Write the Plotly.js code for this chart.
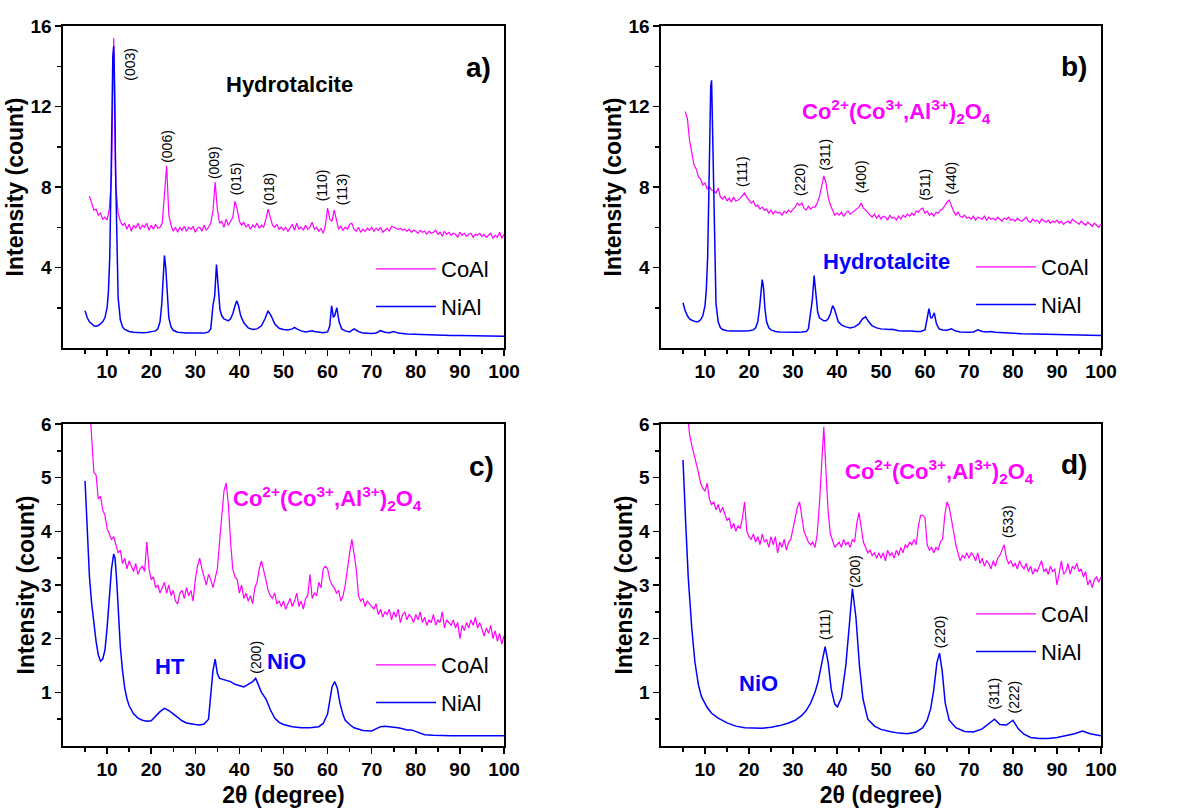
<!DOCTYPE html>
<html>
<head>
<meta charset="utf-8">
<script src="https://cdn.plot.ly/plotly-3.0.1.min.js"></script>
<style>html,body{margin:0;padding:0;background:#fff;}#chart{width:1188px;height:810px;}</style>
</head>
<body>
<div id="chart"></div>
<script>
// ---------------- DATA ----------------
// x-axis tick labels
const xTickVals = [10, 20, 30, 40, 50, 60, 70, 80, 90, 100];
const xMinorVals = [5, 15, 25, 35, 45, 55, 65, 75, 85, 95];
const yTickValsTop = [4, 8, 12, 16];
const yMinorValsTop = [2, 6, 10, 14];
const yTickValsBot = [1, 2, 3, 4, 5, 6];
const yMinorValsBot = [0.5, 1.5, 2.5, 3.5, 4.5, 5.5];
const seriesNames = ['CoAl', 'NiAl'];

// 2θ grid of the NiAl hydrotalcite scans (panels a, b)
const thetaHT = [
  5, 5.5, 6, 6.5, 7, 7.5, 8, 8.5, 9, 9.5,
  10, 10.3, 10.6, 10.9, 11.1, 11.3, 11.5, 11.7, 11.9, 12.2,
  12.5, 13, 13.5, 14, 15, 16, 17, 18, 19, 20,
  21, 21.5, 22, 22.4, 22.7, 23.0, 23.3, 23.6, 24, 24.5,
  25, 26, 27, 28, 29, 30, 31, 32, 33, 33.5,
  34, 34.4, 34.8, 35.2, 35.6, 36, 36.5, 37, 37.5, 38,
  38.5, 39, 39.4, 39.8, 40.3, 41, 42, 43, 44, 45,
  45.8, 46.5, 47.2, 48, 49, 50, 51, 52, 52.5, 53,
  54, 55, 56, 56.5, 57, 58, 59, 60, 60.5, 60.9,
  61.3, 61.6, 62.1, 62.6, 63.2, 64, 65, 66, 67, 68,
  70, 71, 72, 73, 74, 75, 76, 78, 80, 82,
  85, 88, 90, 92, 95, 98, 100
];
// Panel a) NiAl
const niAlA = [
  1.85, 1.5, 1.3, 1.18, 1.1, 1.08, 1.12, 1.2, 1.3, 1.5,
  2.0, 2.8, 4.5, 8.5, 12.0, 14.5, 15.0, 13.0, 9.0, 4.5,
  2.5, 1.4, 1.05, 0.92, 0.82, 0.78, 0.76, 0.76, 0.77, 0.8,
  0.85, 0.95, 1.3, 2.2, 3.5, 4.6, 4.0, 2.6, 1.5, 1.05,
  0.88, 0.78, 0.75, 0.74, 0.74, 0.73, 0.73, 0.74, 0.8, 0.95,
  2.1, 2.6, 4.15, 2.9, 1.9, 1.6, 1.45, 1.4, 1.35, 1.45,
  1.7, 2.1, 2.35, 2.1, 1.6, 1.25, 1.0, 0.92, 0.95, 1.1,
  1.45, 1.85, 1.6, 1.2, 0.98, 0.92, 0.9, 0.95, 1.02, 0.95,
  0.85, 0.8, 0.82, 0.86, 0.82, 0.78, 0.76, 0.8, 1.1, 2.1,
  1.55, 1.6, 2.0, 1.3, 0.95, 0.85, 0.8, 0.95, 0.82, 0.74,
  0.72, 0.75, 0.86, 0.78, 0.76, 0.82, 0.74, 0.7, 0.68, 0.66,
  0.64, 0.62, 0.62, 0.61, 0.6, 0.59, 0.58
];
// Panel a) CoAl, 2θ from 6 to 100 in 0.5 steps
const coAlA = [
  7.55, 7.2, 6.85, 6.9, 6.6, 6.7, 6.4, 6.5,
  6.35, 6.9, 8.5, 15.4, 8.0, 6.7, 6.3, 6.1, 6.2, 5.9, 6.15, 5.8, 6.1, 5.95, 6.2, 5.9, 6.1, 6.0, 6.2, 5.85,
  6.1, 5.9, 6.15, 5.95, 6.0, 6.2, 7.5, 9.05, 6.6, 6.1, 5.8, 6.0, 5.75, 6.0, 5.85, 6.05, 5.8, 6.0, 5.9, 6.05,
  5.75, 5.95, 6.0, 5.8, 6.1, 5.85, 6.0, 6.2, 6.8, 8.25, 6.9, 6.2, 6.3, 6.0, 6.4, 6.1, 6.3, 6.5, 7.3, 6.9,
  6.3, 6.1, 6.25, 6.0, 6.15, 5.9, 6.1, 6.0, 6.2, 5.95, 6.1, 6.0, 6.4, 6.9, 6.5, 6.1, 6.0, 6.15, 5.9, 6.0,
  5.85, 6.0, 5.8, 5.95, 6.15, 5.85, 6.2, 5.9, 6.0, 5.85, 6.1, 5.9, 6.0, 6.25, 5.9, 6.0, 5.8, 5.95, 5.7, 6.1,
  6.95, 6.4, 6.3, 6.85, 6.3, 5.9, 6.05, 5.85, 6.0, 5.9, 6.15, 6.2, 5.9, 5.8, 6.0, 5.75, 5.9, 5.8, 5.95, 5.85,
  6.0, 5.8, 5.95, 5.85, 6.0, 5.75, 5.85, 5.95, 5.8, 6.05, 6.0, 5.95, 5.9, 5.95, 5.85, 5.9, 5.8, 5.9, 5.75, 5.85,
  5.8, 5.7, 5.85, 5.75, 5.8, 5.65, 5.8, 5.7, 5.75, 5.85, 5.65, 5.75, 5.55, 5.8, 5.65, 5.75, 5.6, 5.7, 5.65, 5.5,
  5.75, 5.6, 5.7, 5.55, 5.65, 5.7, 5.5, 5.65, 5.6, 5.7, 5.55, 5.65, 5.5, 5.6, 5.7, 5.45, 5.6, 5.5, 5.75, 5.45,
  5.65
];
// Panel b) NiAl
const niAlB = [
  2.25, 1.85, 1.6, 1.45, 1.38, 1.32, 1.3, 1.32, 1.4, 1.6,
  2.1, 2.9, 4.5, 8.0, 11.0, 13.0, 13.3, 11.0, 7.5, 3.8,
  2.2, 1.3, 1.0, 0.92, 0.86, 0.84, 0.83, 0.83, 0.84, 0.86,
  0.9, 1.0, 1.3, 2.0, 2.9, 3.4, 3.0, 2.0, 1.3, 1.0,
  0.9, 0.82, 0.8, 0.79, 0.79, 0.78, 0.78, 0.79, 0.82, 0.95,
  1.9, 2.4, 3.6, 2.6, 1.8, 1.5, 1.4, 1.35, 1.35, 1.45,
  1.7, 2.1, 1.95, 1.6, 1.3, 1.15, 1.05, 1.0, 1.05, 1.2,
  1.45, 1.55, 1.3, 1.1, 1.0, 0.95, 0.92, 0.92, 0.93, 0.9,
  0.86, 0.85, 0.86, 0.87, 0.84, 0.82, 0.82, 0.9, 1.6, 1.95,
  1.5, 1.5, 1.75, 1.2, 0.95, 0.9, 0.88, 0.95, 0.84, 0.8,
  0.78, 0.8, 0.9, 0.82, 0.8, 0.82, 0.78, 0.75, 0.73, 0.71,
  0.7, 0.68, 0.67, 0.66, 0.64, 0.63, 0.62
];
// Panel b) CoAl, 2θ from 5.5 to 100 in 0.5 steps
const coAlB = [
  11.75, 11.4, 10.3, 9.7, 9.1, 8.9, 8.5, 8.4, 8.1,
  8.2, 7.9, 8.0, 7.85, 7.8, 7.7, 7.95, 7.5, 7.4, 7.55, 7.3, 7.45, 7.25, 7.5, 7.3, 7.35, 7.45, 7.55, 7.7, 7.5,
  7.35, 7.2, 7.3, 7.05, 7.1, 6.9, 7.0, 6.85, 6.9, 6.7, 6.85, 6.65, 6.8, 6.7, 6.75, 6.6, 6.8, 6.7, 6.85, 6.75,
  6.9, 7.0, 7.2, 7.1, 7.2, 6.95, 6.85, 7.05, 6.9, 7.0, 7.0, 7.2, 7.5, 8.1, 8.55, 8.2, 7.5, 7.1, 6.8, 6.6,
  6.7, 6.6, 6.75, 6.55, 6.7, 6.8, 6.65, 6.75, 6.85, 6.95, 7.0, 7.2, 6.95, 6.85, 6.7, 6.6, 6.5, 6.65, 6.45, 6.6,
  6.4, 6.55, 6.5, 6.35, 6.6, 6.45, 6.5, 6.35, 6.55, 6.4, 6.6, 6.5, 6.65, 6.55, 6.7, 6.6, 6.8, 6.75, 6.9, 6.95,
  6.7, 6.8, 6.6, 6.7, 6.55, 6.75, 6.7, 6.85, 6.9, 7.1, 7.25, 7.35, 7.05, 6.8, 6.6, 6.75, 6.55, 6.5, 6.6, 6.45,
  6.5, 6.4, 6.55, 6.35, 6.5, 6.45, 6.4, 6.55, 6.35, 6.5, 6.4, 6.45, 6.35, 6.5, 6.4, 6.3, 6.45, 6.4, 6.5, 6.35,
  6.4, 6.3, 6.45, 6.35, 6.3, 6.4, 6.5, 6.3, 6.25, 6.4, 6.3, 6.35, 6.2, 6.4, 6.3, 6.25, 6.35, 6.2, 6.3, 6.25,
  6.35, 6.2, 6.3, 6.15, 6.25, 6.3, 6.2, 6.4, 6.3, 6.25, 6.15, 6.3, 6.2, 6.1, 6.25, 6.15, 6.05, 6.2, 6.1, 6.0,
  6.15
];
// Panel c) NiAl
const thetaNiAlC = [
  5, 5.3, 5.6, 6, 6.5, 7, 7.5, 8, 8.5, 9,
  9.5, 10, 10.5, 11, 11.5, 11.8, 12.2, 12.6, 13, 13.5,
  14, 14.5, 15, 16, 17, 18, 19, 20, 21, 22,
  23, 24, 25, 26, 27, 28, 29, 30, 31, 32,
  33, 33.5, 34, 34.5, 35, 35.5, 36, 37, 38, 39,
  40, 41, 42, 43, 43.7, 44.5, 45, 46, 47, 48,
  49, 50, 52, 54, 56, 58, 59, 60, 60.5, 61,
  61.6, 62.2, 62.8, 63.5, 64, 65, 66, 67, 68, 70,
  71, 72, 73, 74, 75, 76, 77, 78, 79, 80,
  81, 82, 84, 86, 88, 90, 92, 94, 96, 98,
  100
];
const niAlC = [
  4.94, 4.3, 3.7, 3.15, 2.65, 2.25, 1.95, 1.7, 1.58, 1.62,
  1.78, 2.2, 2.8, 3.3, 3.58, 3.5, 3.05, 2.45, 1.85, 1.4,
  1.08, 0.88, 0.75, 0.6, 0.52, 0.48, 0.46, 0.47, 0.55, 0.64,
  0.7, 0.66, 0.6, 0.53, 0.47, 0.43, 0.41, 0.4, 0.39, 0.41,
  0.5, 0.9, 1.4, 1.62, 1.35, 1.26, 1.25, 1.22, 1.2, 1.15,
  1.12, 1.1, 1.15, 1.2, 1.26, 1.08, 1.0, 0.88, 0.68, 0.52,
  0.44, 0.4, 0.36, 0.34, 0.34, 0.36, 0.42, 0.6, 0.85, 1.1,
  1.2, 1.08, 0.8, 0.58, 0.48, 0.4, 0.34, 0.31, 0.29, 0.28,
  0.32, 0.36, 0.37, 0.36, 0.36, 0.34, 0.32, 0.3, 0.3, 0.27,
  0.24, 0.21, 0.2, 0.19, 0.19, 0.19, 0.19, 0.18, 0.19, 0.19,
  0.19
];
// Panel c) CoAl, 2θ from 6 to 100 in 0.5 steps
const coAlC = [
  6.4, 5.7, 5.1, 5.05, 4.6, 4.65, 4.4, 4.3,
  4.05, 3.95, 3.85, 3.9, 3.75, 3.6, 3.65, 3.4, 3.5, 3.3, 3.45, 3.35, 3.25, 3.4, 3.2, 3.3, 3.35, 3.25, 3.8, 3.3,
  3.1, 3.15, 2.95, 3.0, 2.85, 2.95, 3.05, 2.85, 3.0, 2.8, 2.9, 2.7, 2.65, 2.85, 2.9, 2.75, 2.95, 2.8, 2.9, 2.7,
  3.1, 3.35, 3.5, 3.3, 3.15, 3.0, 3.2, 3.1, 2.95, 3.15, 3.3, 3.8, 4.35, 4.75, 4.9, 4.5, 3.8, 3.3, 3.15, 3.1,
  2.85, 3.0, 2.75, 2.85, 2.7, 2.8, 2.65, 2.95, 3.05, 3.3, 3.45, 3.3, 3.1, 2.9, 2.8, 2.75, 2.85, 2.65, 2.7, 2.6,
  2.7, 2.55, 2.65, 2.75, 2.6, 2.7, 2.85, 2.6, 2.7, 2.55, 2.75, 2.8, 3.2, 2.75, 2.85, 2.8, 3.05, 2.95, 3.3, 3.35,
  3.3, 3.1, 3.0, 2.95, 2.85, 2.9, 2.7, 2.8, 3.0, 3.35, 3.6, 3.85, 3.6, 3.3, 2.8, 2.7, 2.75, 2.6, 2.7, 2.65,
  2.6, 2.55, 2.65, 2.45, 2.55, 2.4, 2.5, 2.45, 2.55, 2.35, 2.5, 2.4, 2.55, 2.3, 2.45, 2.5, 2.35, 2.45, 2.4, 2.3,
  2.45, 2.35, 2.5, 2.3, 2.4, 2.25, 2.35, 2.3, 2.45, 2.25, 2.35, 2.3, 2.5, 2.2, 2.35, 2.3, 2.25, 2.35, 2.2, 2.3,
  2.0, 2.25, 2.15, 2.3, 2.2, 2.35, 2.25, 2.4, 2.2, 2.3, 2.15, 2.05, 2.2, 2.1, 2.25, 2.0, 2.15, 1.95, 2.1, 1.9,
  2.05
];
// Panel d) NiAl
const thetaNiAlD = [
  5, 5.25, 5.6, 6.2, 7, 7.7, 8.5, 9.2, 10.4, 11.5,
  13, 15, 17, 19, 21, 23, 25, 27, 29, 30.5,
  32, 33, 34, 35, 35.7, 36.5, 37.3, 38, 38.7, 39.5,
  40.1, 41, 42, 42.8, 43.5, 44.3, 45.1, 45.9, 47, 48.5,
  50, 52, 54, 56, 58, 59.5, 60.5, 61.3, 62, 62.7,
  63.3, 63.9, 64.6, 65.5, 67, 69, 71, 73, 74.5, 75.8,
  77, 78.5, 80, 81.2, 82.5, 84, 86, 88, 90, 92,
  94, 95.8, 97.5, 100
];
const niAlD = [
  5.33, 4.93, 4.18, 3.13, 2.19, 1.57, 1.14, 0.92, 0.73, 0.61,
  0.52, 0.43, 0.37, 0.34, 0.33, 0.33, 0.35, 0.38, 0.43, 0.48,
  0.57, 0.66, 0.8, 1.0, 1.2, 1.5, 1.85, 1.55, 1.05, 0.78,
  0.73, 0.9, 1.5, 2.25, 2.93, 2.4, 1.5, 0.88, 0.5, 0.37,
  0.31, 0.27, 0.24, 0.23, 0.26, 0.34, 0.48, 0.7, 1.05, 1.55,
  1.73, 1.4, 0.8, 0.48, 0.34, 0.27, 0.26, 0.32, 0.42, 0.5,
  0.4, 0.39, 0.48, 0.32, 0.22, 0.16, 0.14, 0.14, 0.16, 0.19,
  0.23, 0.28, 0.23, 0.19
];
// Panel d) CoAl, 2θ from 6 to 100 in 0.5 steps
const coAlD = [
  6.2, 5.8, 5.6, 5.45, 5.3, 5.1, 4.9, 4.8,
  4.75, 4.9, 4.6, 4.5, 4.55, 4.4, 4.5, 4.35, 4.45, 4.3, 4.2, 4.25, 4.05, 4.15, 4.0, 4.1, 4.05, 4.25, 4.55, 4.0,
  3.9, 3.85, 3.95, 3.8, 3.9, 3.75, 3.95, 3.8, 3.85, 3.7, 3.9, 3.75, 3.9, 3.6, 3.8, 3.7, 3.85, 3.65, 3.8, 3.85,
  4.05, 4.25, 4.45, 4.55, 4.3, 4.0, 3.9, 3.8, 3.75, 3.8, 3.7, 3.95, 4.5, 5.35, 5.95, 5.1, 4.35, 3.95, 3.8, 3.7,
  3.75, 3.8, 3.7, 3.85, 3.75, 3.8, 3.7, 3.85, 3.8, 4.15, 4.35, 4.1, 3.8, 3.7, 3.6, 3.65, 3.55, 3.6, 3.5, 3.6,
  3.5, 3.6, 3.45, 3.65, 3.55, 3.6, 3.5, 3.65, 3.55, 3.7, 3.6, 3.75, 3.7, 3.8, 3.75, 3.85, 3.75, 4.1, 4.3, 4.3,
  4.25, 3.75, 3.65, 3.7, 3.6, 3.7, 3.65, 3.8, 3.85, 4.3, 4.55, 4.45, 4.25, 4.0, 3.75, 3.6, 3.45, 3.55, 3.5, 3.6,
  3.5, 3.6, 3.55, 3.45, 3.6, 3.4, 3.5, 3.35, 3.45, 3.4, 3.3, 3.45, 3.35, 3.5, 3.55, 3.65, 3.75, 3.5, 3.4, 3.45,
  3.35, 3.4, 3.3, 3.45, 3.35, 3.3, 3.4, 3.25, 3.35, 3.2, 3.3, 3.25, 3.35, 3.45, 3.25, 3.3, 3.2, 3.35, 3.25, 3.3,
  3.0, 3.25, 3.45, 3.2, 3.25, 3.4, 3.2, 3.35, 3.3, 3.4, 3.25, 3.3, 3.15, 3.25, 3.0, 3.1, 2.95, 3.1, 3.15, 3.05,
  3.15
];
// Start and step of the evenly sampled CoAl scans
const coAlStart = {a: 6, b: 5.5, c: 6, d: 6};
const coAlStep = 0.5;

// Text labels: [text, x, y]
const hklA = [['(003)', 15.3, 14.1], ['(006)', 23.6, 10.0], ['(009)', 34.3, 9.2], ['(015)', 39.3, 8.4],
              ['(018)', 46.6, 7.9], ['(110)', 58.8, 8.1], ['(113)', 63.3, 7.9]];
const hklB = [['(111)', 18.3, 8.77], ['(220)', 31.6, 8.35], ['(311)', 37.2, 9.6], ['(400)', 45.5, 8.5],
              ['(511)', 59.9, 8.1], ['(440)', 65.8, 8.45]];
const hklC = [['(200)', 43.7, 1.66]];
const hklD = [['(533)', 78.7, 4.18], ['(111)', 37.1, 2.26], ['(200)', 43.9, 3.25], ['(220)', 63.3, 2.13],
              ['(311)', 75.7, 0.98], ['(222)', 80.2, 0.92]];
const spinel = 'Co<sup>2+</sup>(Co<sup>3+</sup>,Al<sup>3+</sup>)<sub>2</sub>O<sub>4</sub>';

// ---------------- STYLE ----------------
const F = '"Liberation Sans", Arial, sans-serif';
const MAG = 'rgb(255,0,255)', BLU = 'rgb(0,0,255)';
const W = 1188, H = 810;
const px = (a, b) => [a / W, b / W];
const py = (top, bot) => [1 - bot / H, 1 - top / H];

function xaxis(dom, anchor, withTitle) {
  const ax = {
    domain: dom, anchor: anchor, range: [0, 100],
    tickmode: 'array', tickvals: xTickVals, ticktext: xTickVals.map(String),
    showline: true, linecolor: 'black', linewidth: 1.6, mirror: true,
    ticks: 'outside', ticklen: 6, tickwidth: 1.5, tickcolor: 'black',
    minor: {tickmode: 'array', tickvals: xMinorVals, ticks: 'outside', ticklen: 4, tickwidth: 1.5, tickcolor: 'black'},
    showgrid: false, zeroline: false, fixedrange: true,
    tickfont: {family: F, size: 19, weight: 'bold', color: 'black'}
  };
  if (withTitle) ax.title = {text: '2θ (degree)', font: {family: F, size: 23, weight: 'bold', color: 'black'}, standoff: 7};
  return ax;
}
function yaxis(dom, anchor, top) {
  const tv = top ? yTickValsTop : yTickValsBot;
  return {
    domain: dom, anchor: anchor, range: top ? [0, 16] : [0, 6],
    tickmode: 'array', tickvals: tv, ticktext: tv.map(String),
    showline: true, linecolor: 'black', linewidth: 1.6, mirror: true,
    ticks: 'outside', ticklen: 6, tickwidth: 1.5, tickcolor: 'black',
    minor: {tickmode: 'array', tickvals: top ? yMinorValsTop : yMinorValsBot, ticks: 'outside', ticklen: 4, tickwidth: 1.5, tickcolor: 'black'},
    showgrid: false, zeroline: false, fixedrange: true,
    tickfont: {family: F, size: 19, weight: 'bold', color: 'black'},
    title: {text: 'Intensity (count)', font: {family: F, size: 23, weight: 'bold', color: 'black'}, standoff: 0}
  };
}

const panels = [
  {key: 'a', xa: 'x',  ya: 'y',  leg: 'legend',  ni: niAlA, niX: thetaHT,    co: coAlA},
  {key: 'b', xa: 'x2', ya: 'y2', leg: 'legend2', ni: niAlB, niX: thetaHT,    co: coAlB},
  {key: 'c', xa: 'x3', ya: 'y3', leg: 'legend3', ni: niAlC, niX: thetaNiAlC, co: coAlC},
  {key: 'd', xa: 'x4', ya: 'y4', leg: 'legend4', ni: niAlD, niX: thetaNiAlD, co: coAlD}
];

const traces = [];
panels.forEach(p => {
  traces.push({type: 'scatter', mode: 'lines', name: seriesNames[0], xaxis: p.xa, yaxis: p.ya, legend: p.leg,
               legendgroup: p.key + 'co', x0: coAlStart[p.key], dx: coAlStep, y: p.co, line: {color: MAG, width: 1.2}});
  traces.push({type: 'scatter', mode: 'lines', name: seriesNames[1], xaxis: p.xa, yaxis: p.ya, legend: p.leg,
               legendgroup: p.key + 'ni', x: p.niX, y: p.ni, line: {color: BLU, width: 1.5}});
});

const ann = [];
function hkl(list, xa, ya) {
  list.forEach(([t, x, y]) => ann.push({text: t, x: x, y: y, xref: xa, yref: ya, showarrow: false, textangle: -90,
    font: {family: F, size: 14, color: 'black'}}));
}
function label(t, x, y, xa, ya, color, size) {
  ann.push({text: t, x: x, y: y, xref: xa, yref: ya, showarrow: false,
    font: {family: F, size: size, weight: 'bold', color: color}});
}
hkl(hklA, 'x', 'y'); hkl(hklB, 'x2', 'y2'); hkl(hklC, 'x3', 'y3'); hkl(hklD, 'x4', 'y4');
label('Hydrotalcite', 51.3, 13.1, 'x', 'y', 'black', 22);
label('a)', 94.3, 13.95, 'x', 'y', 'black', 28);
label('Hydrotalcite', 51.2, 4.29, 'x2', 'y2', BLU, 22);
label(spinel, 53.5, 11.75, 'x2', 'y2', MAG, 22);
label('b)', 93.9, 14.0, 'x2', 'y2', 'black', 28);
label(spinel, 60.0, 4.62, 'x3', 'y3', MAG, 22);
label('HT', 24.2, 1.48, 'x3', 'y3', BLU, 22);
label('NiO', 50.6, 1.57, 'x3', 'y3', BLU, 22);
label('c)', 94.8, 5.2, 'x3', 'y3', 'black', 28);
label(spinel, 63.4, 5.12, 'x4', 'y4', MAG, 22);
label('NiO', 22.1, 1.17, 'x4', 'y4', BLU, 22);
label('d)', 93.9, 5.24, 'x4', 'y4', 'black', 28);

function legendAt(x, y) {
  return {x: x, y: y, xanchor: 'left', yanchor: 'top', bgcolor: 'rgba(0,0,0,0)', borderwidth: 0,
          traceorder: 'grouped', tracegroupgap: 6,
          font: {family: F, size: 22, color: 'black'}, itemwidth: 60};
}

const layout = {
  width: W, height: H, margin: {l: 0, r: 0, t: 0, b: 0},
  paper_bgcolor: 'white', plot_bgcolor: 'white', showlegend: true,
  xaxis: xaxis(px(63, 504), 'y', false),
  yaxis: yaxis(py(26, 348), 'x', true),
  xaxis2: xaxis(px(661, 1101), 'y2', false),
  yaxis2: yaxis(py(26, 348), 'x2', true),
  xaxis3: xaxis(px(63, 504), 'y3', true),
  yaxis3: yaxis(py(424, 746), 'x3', false),
  xaxis4: xaxis(px(661, 1101), 'y4', true),
  yaxis4: yaxis(py(424, 746), 'x4', false),
  legend: legendAt(371 / W, 1 - 248 / H),
  legend2: legendAt(971 / W, 1 - 246 / H),
  legend3: legendAt(371 / W, 1 - 644 / H),
  legend4: legendAt(971 / W, 1 - 593 / H),
  annotations: ann
};

Plotly.newPlot('chart', traces, layout, {displayModeBar: false, staticPlot: true});
</script>
</body>
</html>
